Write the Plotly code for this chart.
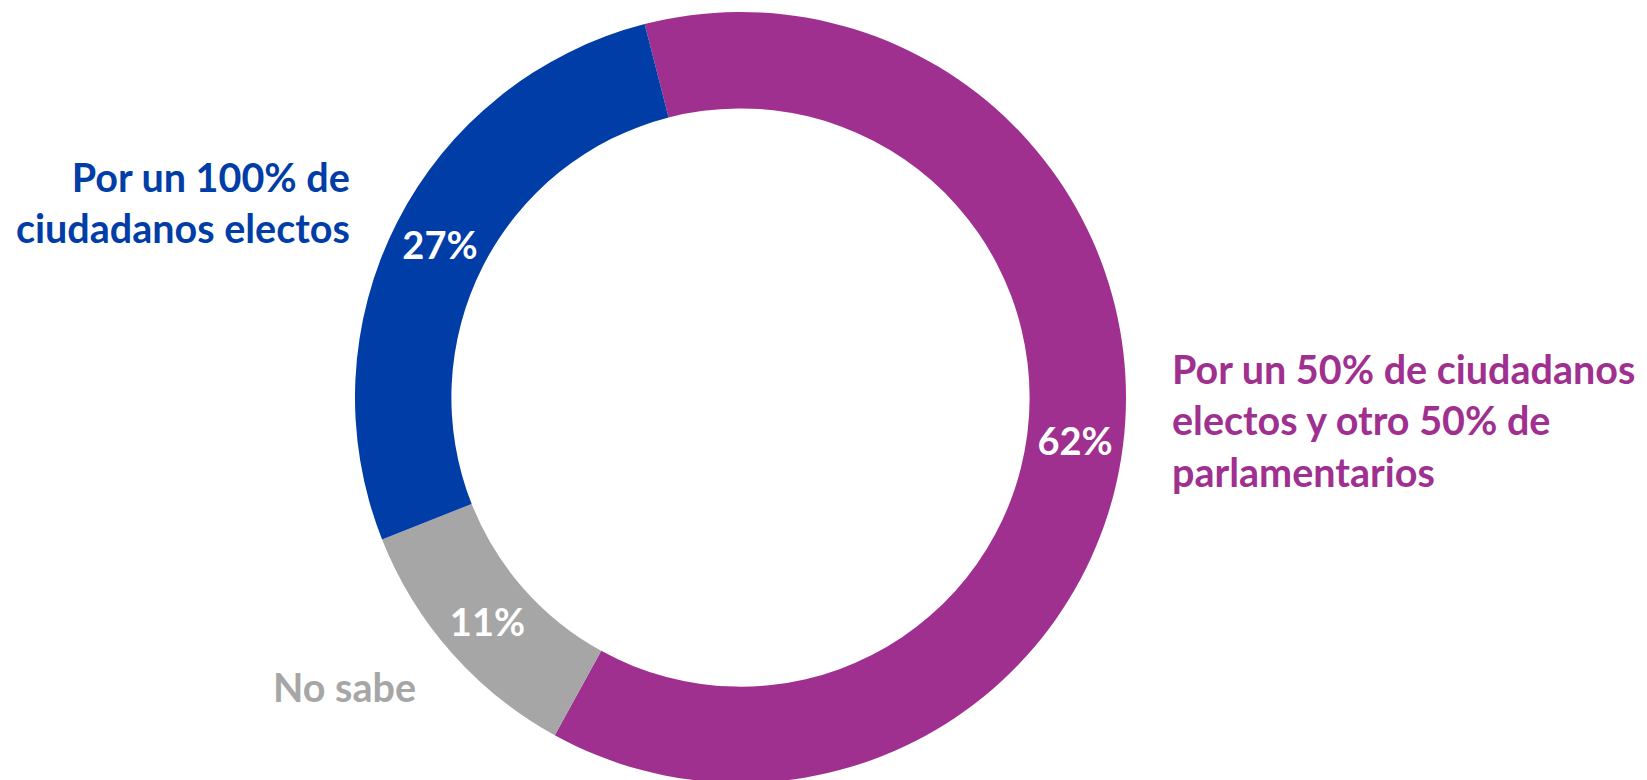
import plotly.graph_objects as go

labels = ["Por un 50% de ciudadanos electos y otro 50% de parlamentarios", "No sabe", "Por un 100% de ciudadanos electos"]
values = [62, 11, 27]
colors = ["#A0308F", "#A6A6A6", "#003DA6"]
label_lines = [
    "Por un 50% de ciudadanos<br>electos y otro 50% de<br>parlamentarios",
    "No sabe",
    "Por un 100% de<br>ciudadanos electos",
]

W, H = 1647, 780
# geometry in figure pixel coords (top-left origin)
cx, cy, R = 732.5, 389.5, 385.5

fig = go.Figure(go.Pie(
    labels=labels,
    values=values,
    hole=0.75,
    sort=False,
    direction="clockwise",
    rotation=-14.4,
    marker=dict(colors=colors, line=dict(width=0)),
    texttemplate="%{value}%",
    textposition="inside",
    insidetextorientation="horizontal",
    textfont=dict(family="Lato", size=38, color="white", weight="bold"),
    showlegend=False,
    domain=dict(x=[(cx - R) / W, (cx + R) / W], y=[(H - cy - R) / H, (H - cy + R) / H]),
))

font_fam = "Lato"
fsize = 39.5
fig.add_annotation(x=344 / W, y=1 - 194 / H, xref="paper", yref="paper", xanchor="right", yanchor="middle",
                   text=label_lines[2], showarrow=False, align="right",
                   font=dict(family=font_fam, size=fsize, color=colors[2], weight="bold"))
fig.add_annotation(x=1162 / W, y=1 - 412 / H, xref="paper", yref="paper", xanchor="left", yanchor="middle",
                   text=label_lines[0], showarrow=False, align="left",
                   font=dict(family=font_fam, size=fsize, color=colors[0], weight="bold"))
fig.add_annotation(x=410 / W, y=1 - 678 / H, xref="paper", yref="paper", xanchor="right", yanchor="middle",
                   text=label_lines[1], showarrow=False, align="right",
                   font=dict(family=font_fam, size=fsize, color=colors[1], weight="bold"))

fig.update_layout(width=W, height=H, margin=dict(l=0, r=0, t=0, b=0),
                  paper_bgcolor="white", plot_bgcolor="white")
fig.write_html("out.html")
